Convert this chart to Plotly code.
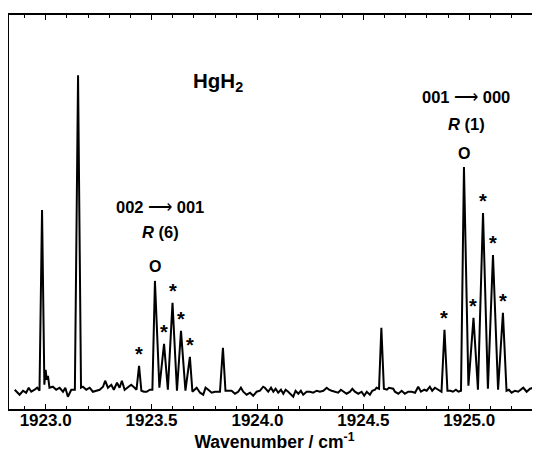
import numpy as np
import plotly.graph_objects as go

# ---- spectrum trace (wavenumber / cm-1, intensity arb. units) ----
wavenumber = [
    1922.854, 1922.877, 1922.893, 1922.908, 1922.920, 1922.932, 1922.948, 1922.960,
    1922.971, 1922.983, 1922.994, 1923.000, 1923.005, 1923.011, 1923.018, 1923.034,
    1923.050, 1923.066, 1923.082, 1923.093, 1923.105, 1923.121, 1923.138, 1923.153,
    1923.167, 1923.176, 1923.192, 1923.208, 1923.223, 1923.239, 1923.255, 1923.271,
    1923.281, 1923.294, 1923.310, 1923.322, 1923.337, 1923.349, 1923.360, 1923.373,
    1923.389, 1923.404, 1923.420, 1923.429, 1923.441, 1923.452, 1923.464, 1923.477,
    1923.492, 1923.504, 1923.516, 1923.537, 1923.559, 1923.577, 1923.599, 1923.620,
    1923.639, 1923.660, 1923.681, 1923.693, 1923.713, 1923.729, 1923.744, 1923.755,
    1923.768, 1923.784, 1923.799, 1923.823, 1923.837, 1923.849, 1923.878, 1923.894,
    1923.909, 1923.922, 1923.933, 1923.949, 1923.965, 1923.980, 1923.996, 1924.012,
    1924.027, 1924.035, 1924.051, 1924.064, 1924.075, 1924.086, 1924.098, 1924.111,
    1924.122, 1924.133, 1924.145, 1924.158, 1924.169, 1924.180, 1924.193, 1924.205,
    1924.216, 1924.232, 1924.248, 1924.263, 1924.280, 1924.295, 1924.311, 1924.327,
    1924.338, 1924.350, 1924.366, 1924.381, 1924.394, 1924.405, 1924.421, 1924.437,
    1924.448, 1924.460, 1924.476, 1924.492, 1924.504, 1924.516, 1924.531, 1924.542,
    1924.555, 1924.562, 1924.574, 1924.585, 1924.597, 1924.611, 1924.621, 1924.641,
    1924.649, 1924.665, 1924.681, 1924.696, 1924.712, 1924.728, 1924.744, 1924.759,
    1924.772, 1924.788, 1924.799, 1924.814, 1924.825, 1924.838, 1924.854, 1924.869,
    1924.883, 1924.897, 1924.911, 1924.923, 1924.937, 1924.949, 1924.961, 1924.975,
    1924.996, 1925.020, 1925.041, 1925.065, 1925.088, 1925.112, 1925.136, 1925.159,
    1925.176, 1925.187, 1925.200, 1925.216, 1925.231, 1925.244, 1925.255, 1925.271,
    1925.287, 1925.302, 1925.318, 1925.334, 1925.357,
]
intensity = [
    3, -2, 2, 0, 5, 1, 3, 5,
    2, 183, 8, 23, 13, 17, 5, 6,
    3, 5, 1, 5, -4, 3, 3, 318,
    5, 6, 3, 5, 1, 2, 3, 6,
    12, 5, 8, 3, 10, 5, 12, 3,
    6, 8, 5, 3, 27, 2, 1, 1,
    3, 3, 112, 5, 49, 3, 90, 2,
    62, 2, 36, 1, 5, 0, -2, 5,
    3, 0, 1, 1, 45, 2, 2, -1,
    1, 5, 1, -2, 0, -3, 1, 2,
    6, 5, 1, 5, 1, 4, 0, 3,
    -1, 3, 1, -2, -4, 2, -1, 2,
    -2, 1, 1, 0, 2, 1, 2, 5,
    3, 2, 1, 0, 3, 1, -1, 1,
    4, 1, -1, 1, -3, 1, -2, 2,
    3, 5, 4, 65, 4, 3, 5, 4,
    1, -1, 2, -1, 1, 1, 0, 6,
    1, 3, 2, 6, 2, 5, 3, 1,
    63, 2, 2, 1, 3, 1, 2, 226,
    7, 75, 3, 180, 4, 138, 3, 80,
    2, 3, 0, 2, 1, 3, 5, 1,
    4, 5, 2, 4, 2,
]

# ---- assignments ----
star_peaks = [1923.441, 1923.559, 1923.599, 1923.639, 1923.681,
              1924.883, 1925.020, 1925.065, 1925.112, 1925.159]
circle_peaks = [1923.516, 1924.975]
ARROW = "<span style='font-weight:normal'>⟶</span>"
band_labels = [f"002 {ARROW} 001", f"001 {ARROW} 000"]
band_branch = ["<i>R</i> (6)", "<i>R</i> (1)"]
molecule = "HgH<sub>2</sub>"

x_major = [1923.0, 1923.5, 1924.0, 1924.5, 1925.0]
x_title = "Wavenumber / cm<sup>-1</sup>"

wn = np.array(wavenumber)
inten = np.array(intensity, dtype=float)

def height_at(p):
    return inten[int(np.argmin(np.abs(wn - p)))]

FONT = "Liberation Sans, Arial, Helvetica, sans-serif"
BOLD = dict(family=FONT, color="black", weight="bold")

fig = go.Figure()
fig.add_trace(go.Scatter(x=wavenumber, y=intensity, mode="lines",
                         line=dict(color="black", width=2), hoverinfo="skip",
                         showlegend=False))

ann = []
for p in star_peaks:
    ann.append(dict(x=p, y=height_at(p), text="*", showarrow=False,
                    yanchor="middle", yshift=12, font=dict(size=20, **BOLD)))
for p in circle_peaks:
    ann.append(dict(x=p, y=height_at(p), text="O", showarrow=False,
                    yanchor="middle", yshift=14, font=dict(size=16, **BOLD)))

# band labels (positions in data coordinates)
label_pos = [(1923.54, 186, 161), (1924.985, 296, 269)]
for (xx, y1, y2), t1, t2 in zip(label_pos, band_labels, band_branch):
    ann.append(dict(x=xx, y=y1, text=t1, showarrow=False, yanchor="middle",
                    font=dict(size=16.5, **BOLD)))
    ann.append(dict(x=xx, y=y2, text=t2, showarrow=False, yanchor="middle",
                    font=dict(size=16.5, **BOLD)))
ann.append(dict(x=1923.814, y=311, text=molecule, showarrow=False, yanchor="middle",
                font=dict(size=20.5, **BOLD)))

# page body has an 8px margin, so the figure is 8px smaller than the window
fig.update_layout(
    width=532, height=449,
    margin=dict(l=1, r=0, t=7, b=48),
    paper_bgcolor="white", plot_bgcolor="white",
    annotations=ann,
    font=dict(family=FONT, color="black"),
)
fig.update_xaxes(
    range=[1922.827, 1925.334],
    tickvals=x_major, ticktext=[f"{v:.1f}" for v in x_major],
    ticks="inside", ticklen=5, tickwidth=1.3, tickcolor="black",
    minor=dict(dtick=0.1, tick0=1923.0, ticks="inside", ticklen=3,
               tickwidth=1.1, tickcolor="black"),
    showline=True, linecolor="black", linewidth=1.5, mirror="ticks",
    showgrid=False, zeroline=False,
    tickfont=dict(size=17, **BOLD), ticklabelstandoff=-5,
    title=dict(text=x_title, standoff=7, font=dict(size=17.5, **BOLD)),
    automargin=False,
)
fig.update_yaxes(
    range=[-16.3, 378.3], showline=True, linecolor="black", linewidth=1.5,
    mirror=False, ticks="", showticklabels=False, showgrid=False, zeroline=False,
)
fig.write_html("out.html")
